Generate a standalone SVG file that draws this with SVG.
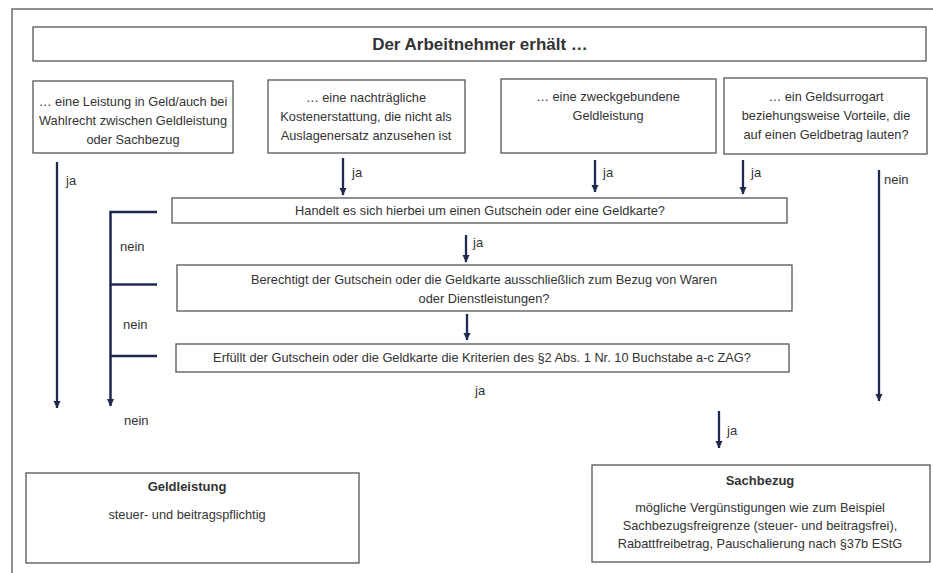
<svg xmlns="http://www.w3.org/2000/svg" width="933" height="573" viewBox="0 0 933 573">
<defs>
<marker id="tip" markerUnits="userSpaceOnUse" markerWidth="8" markerHeight="8" refX="7" refY="4" orient="auto" viewBox="0 0 8 8">
<path d="M0,0.5 L7.5,4 L0,7.5 Z" fill="#1e2a4f"/>
</marker>
</defs>
<style>
.box{fill:#fff;stroke:#555;stroke-width:1.3}
.t{font-family:"Liberation Sans",Arial,sans-serif;font-size:12.8px;fill:#333;text-anchor:middle}
.lbl{font-family:"Liberation Sans",Arial,sans-serif;font-size:13px;fill:#333}
.b{font-weight:bold}
.ar{stroke:#1e2a4f;stroke-width:2.3;fill:none}
.ln{stroke:#1e2a4f;stroke-width:2.5;fill:none}
</style>
<rect width="933" height="573" fill="#fff"/>
<rect x="12" y="9" width="960" height="620" fill="none" stroke="#555" stroke-width="1.3"/>

<g id="title">
<rect class="box" x="33" y="27" width="893" height="34"/>
<text class="t b" x="480" y="50" style="font-size:17px">Der Arbeitnehmer erhält …</text>
</g>

<g id="opt1">
<rect class="box" x="33" y="81" width="200" height="72"/>
<text class="t" x="133" y="106">… eine Leistung in Geld/auch bei</text>
<text class="t" x="133" y="125">Wahlrecht zwischen Geldleistung</text>
<text class="t" x="133" y="144">oder Sachbezug</text>
</g>

<g id="opt2">
<rect class="box" x="268" y="80" width="197" height="73"/>
<text class="t" x="366" y="102">… eine nachträgliche</text>
<text class="t" x="366" y="121">Kostenerstattung, die nicht als</text>
<text class="t" x="366" y="140">Auslagenersatz anzusehen ist</text>
</g>

<g id="opt3">
<rect class="box" x="501" y="79" width="215" height="74"/>
<text class="t" x="608" y="101">… eine zweckgebundene</text>
<text class="t" x="608" y="120">Geldleistung</text>
</g>

<g id="opt4">
<rect class="box" x="724" y="78" width="203" height="76"/>
<text class="t" x="826" y="101">… ein Geldsurrogart</text>
<text class="t" x="826" y="120">beziehungsweise Vorteile, die</text>
<text class="t" x="826" y="139">auf einen Geldbetrag lauten?</text>
</g>

<g id="q1">
<rect class="box" x="172" y="198" width="615" height="25"/>
<text class="t" x="480" y="215">Handelt es sich hierbei um einen Gutschein oder eine Geldkarte?</text>
</g>

<g id="q2">
<rect class="box" x="177" y="265" width="615" height="46"/>
<text class="t" x="484" y="284">Berechtigt der Gutschein oder die Geldkarte ausschließlich zum Bezug von Waren</text>
<text class="t" x="484" y="303">oder Dienstleistungen?</text>
</g>

<g id="q3">
<rect class="box" x="176" y="344" width="613" height="28"/>
<text class="t" x="482" y="362">Erfüllt der Gutschein oder die Geldkarte die Kriterien des §2 Abs. 1 Nr. 10 Buchstabe a-c ZAG?</text>
</g>

<g id="geld">
<rect class="box" x="26" y="473" width="333" height="90"/>
<text class="t b" x="187" y="491" style="font-size:13px">Geldleistung</text>
<text class="t" x="187" y="519">steuer- und beitragspflichtig</text>
</g>

<g id="sach">
<rect class="box" x="592" y="465" width="338" height="97"/>
<text class="t b" x="760" y="485" style="font-size:13px">Sachbezug</text>
<text class="t" x="760" y="512">mögliche Vergünstigungen wie zum Beispiel</text>
<text class="t" x="760" y="530">Sachbezugsfreigrenze (steuer- und beitragsfrei),</text>
<text class="t" x="760" y="548">Rabattfreibetrag, Pauschalierung nach §37b EStG</text>
</g>

<g id="connectors">
<line class="ar" x1="57" y1="162" x2="57" y2="408" marker-end="url(#tip)"/>
<line class="ar" x1="343" y1="158" x2="343" y2="195" marker-end="url(#tip)"/>
<line class="ar" x1="595" y1="160" x2="595" y2="192" marker-end="url(#tip)"/>
<line class="ar" x1="743" y1="160" x2="743" y2="194" marker-end="url(#tip)"/>
<line class="ar" x1="879" y1="170" x2="879" y2="401" marker-end="url(#tip)"/>
<line class="ar" x1="466" y1="235" x2="466" y2="262" marker-end="url(#tip)"/>
<line class="ar" x1="467" y1="314" x2="467" y2="340" marker-end="url(#tip)"/>
<line class="ar" x1="719" y1="411" x2="719" y2="448" marker-end="url(#tip)"/>
<path class="ln" d="M157,212 H110.5 V406" marker-end="url(#tip)"/>
<line class="ln" x1="110" y1="284.5" x2="157" y2="284.5"/>
<line class="ln" x1="110" y1="356" x2="157" y2="356"/>
</g>

<g id="labels">
<text class="lbl" x="66" y="185">ja</text>
<text class="lbl" x="352" y="177">ja</text>
<text class="lbl" x="603" y="177">ja</text>
<text class="lbl" x="751" y="177">ja</text>
<text class="lbl" x="884" y="184">nein</text>
<text class="lbl" x="473" y="247">ja</text>
<text class="lbl" x="475" y="395">ja</text>
<text class="lbl" x="727" y="435">ja</text>
<text class="lbl" x="120" y="251">nein</text>
<text class="lbl" x="123" y="329">nein</text>
<text class="lbl" x="124" y="425">nein</text>
</g>
</svg>
